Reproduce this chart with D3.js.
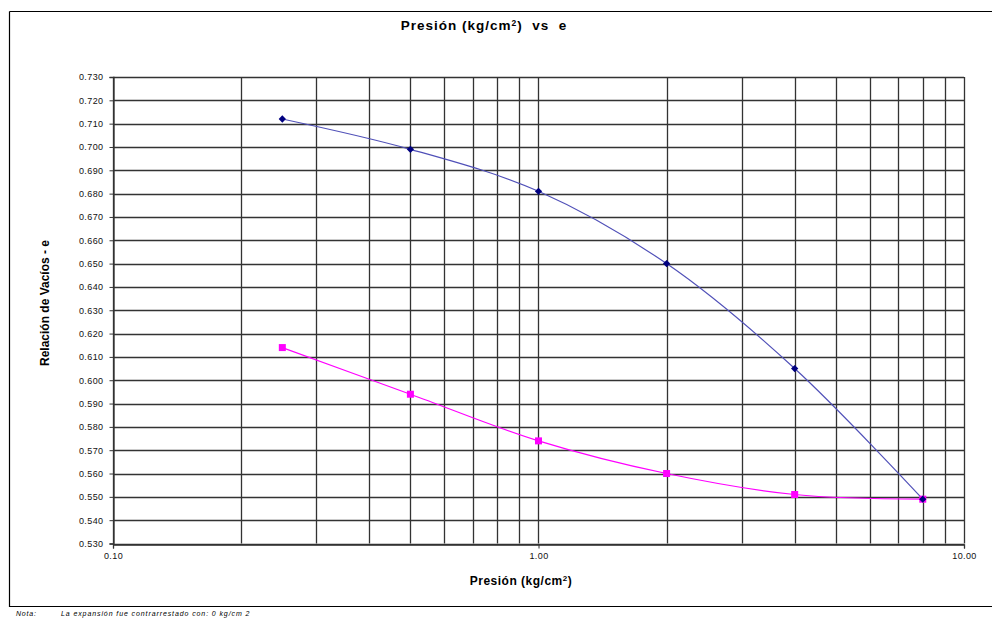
<!DOCTYPE html>
<html>
<head>
<meta charset="utf-8">
<script src="https://cdn.jsdelivr.net/npm/d3@7"></script>
<style>
  body { margin: 0; background: #fff; }
  svg { display: block; font-family: "Liberation Sans", Arial, sans-serif; }
</style>
</head>
<body>
<svg width="992" height="619"></svg>
<script>
// presion (kg/cm2) vs relacion de vacios
const presion = [0.25, 0.5, 1, 2, 4, 8];
const carga = [0.712, 0.699, 0.681, 0.650, 0.605, 0.549];
const descarga = [0.614, 0.594, 0.574, 0.560, 0.551, 0.549];
const xTickLabels = [0.1, 1, 10];
const yTicks = d3.range(0.53, 0.7301, 0.01);

const svg = d3.select("svg");

// outer frame
svg.append("path")
  .attr("d", "M9.5,11.5 H992 M9.5,11.5 V606.5 H992")
  .attr("fill", "none")
  .attr("stroke", "#000")
  .attr("stroke-width", 1.2);

const plotLeft = 113, plotRight = 964, plotTop = 77, plotBottom = 543.5;

const x = d3.scaleLog().domain([0.1, 10]).range([plotLeft, plotRight]);
const y = d3.scaleLinear().domain([0.53, 0.73]).range([plotBottom, plotTop]);

const graf = svg.append("g");

// vertical grid (1..9 of each decade)
const xGrid = [];
[0.1, 1].forEach((d) => {
  for (let k = 1; k <= 9; k++) xGrid.push(d * k);
});
xGrid.push(10);
graf.append("g")
  .selectAll("line")
  .data(xGrid)
  .join("line")
  .attr("x1", (d) => Math.round(x(d)) + 0.5)
  .attr("x2", (d) => Math.round(x(d)) + 0.5)
  .attr("y1", plotTop)
  .attr("y2", plotBottom)
  .attr("stroke", "#333")
  .attr("stroke-width", 1.3);

// horizontal grid
graf.append("g")
  .selectAll("line")
  .data(yTicks)
  .join("line")
  .attr("x1", plotLeft)
  .attr("x2", plotRight)
  .attr("y1", (d) => Math.round(y(d)) + 0.5)
  .attr("y2", (d) => Math.round(y(d)) + 0.5)
  .attr("stroke", "#333")
  .attr("stroke-width", 1.3);

// axes
const yAxis = graf.append("g")
  .attr("transform", `translate(${plotLeft + 0.5},0)`)
  .call(d3.axisLeft(y).tickValues(yTicks).tickFormat(d3.format(".3f")).tickSize(4).tickPadding(6));
const xAxis = graf.append("g")
  .attr("transform", `translate(0,${Math.round(plotBottom) + 0.5})`)
  .call(d3.axisBottom(x).tickValues(xTickLabels).tickFormat(d3.format(".2f")).tickSize(4).tickPadding(4));
[yAxis, xAxis].forEach((a) => {
  a.select(".domain").attr("stroke", "#333").attr("stroke-width", 1.3);
  a.selectAll(".tick line").attr("stroke", "#333");
  a.selectAll("text")
    .attr("font-size", 9)
    .attr("letter-spacing", 0.4)
    .attr("fill", "#111")
    .attr("font-family", "Liberation Sans, Arial, sans-serif");
});

// series
const line = d3.line()
  .x((d) => x(d[0]))
  .y((d) => y(d[1]))
  .curve(d3.curveCatmullRom.alpha(0.5));

const blueData = presion.map((p, i) => [p, carga[i]]);
const pinkData = presion.map((p, i) => [p, descarga[i]]);

graf.append("path")
  .datum(pinkData)
  .attr("d", line)
  .attr("fill", "none")
  .attr("stroke", "#ff00ff")
  .attr("stroke-width", 1.2);
graf.append("path")
  .datum(blueData)
  .attr("d", line)
  .attr("fill", "none")
  .attr("stroke", "#5050b8")
  .attr("stroke-width", 1.2);

// markers: pink squares, navy diamonds
graf.append("g")
  .selectAll("rect")
  .data(pinkData)
  .join("rect")
  .attr("x", (d) => x(d[0]) - 3.5)
  .attr("y", (d) => y(d[1]) - 3.5)
  .attr("width", 7)
  .attr("height", 7)
  .attr("fill", "#ff00ff");
graf.append("g")
  .selectAll("path")
  .data(blueData)
  .join("path")
  .attr("d", d3.symbol(d3.symbolDiamond2, 34))
  .attr("transform", (d) => `translate(${x(d[0])},${y(d[1])})`)
  .attr("fill", "#000080");

// titles
svg.append("text")
  .attr("x", 484)
  .attr("y", 30)
  .attr("text-anchor", "middle")
  .attr("font-size", 13.5)
  .attr("font-weight", "bold")
  .attr("letter-spacing", 1)
  .attr("xml:space", "preserve")
  .html('Presión (kg/cm<tspan font-size="8.5" dy="-4">2</tspan><tspan dy="4">)  vs  e</tspan>');

svg.append("text")
  .attr("x", 521)
  .attr("y", 585)
  .attr("text-anchor", "middle")
  .attr("font-size", 12)
  .attr("font-weight", "bold")
  .attr("letter-spacing", 0.5)
  .html('Presión (kg/cm<tspan font-size="8" dy="-4">2</tspan><tspan dy="4">)</tspan>');

svg.append("text")
  .attr("transform", "translate(49,303) rotate(-90)")
  .attr("text-anchor", "middle")
  .attr("font-size", 12)
  .attr("font-weight", "bold")
  .text("Relación de Vacíos - e");

// nota
svg.append("text")
  .attr("x", 16)
  .attr("y", 616)
  .attr("font-size", 7)
  .attr("font-style", "italic")
  .attr("letter-spacing", 0.8)
  .text("Nota:");
svg.append("text")
  .attr("x", 61)
  .attr("y", 616)
  .attr("font-size", 7)
  .attr("font-style", "italic")
  .attr("letter-spacing", 0.9)
  .text("La expansión fue contrarrestado con: 0 kg/cm 2");
</script>
</body>
</html>
